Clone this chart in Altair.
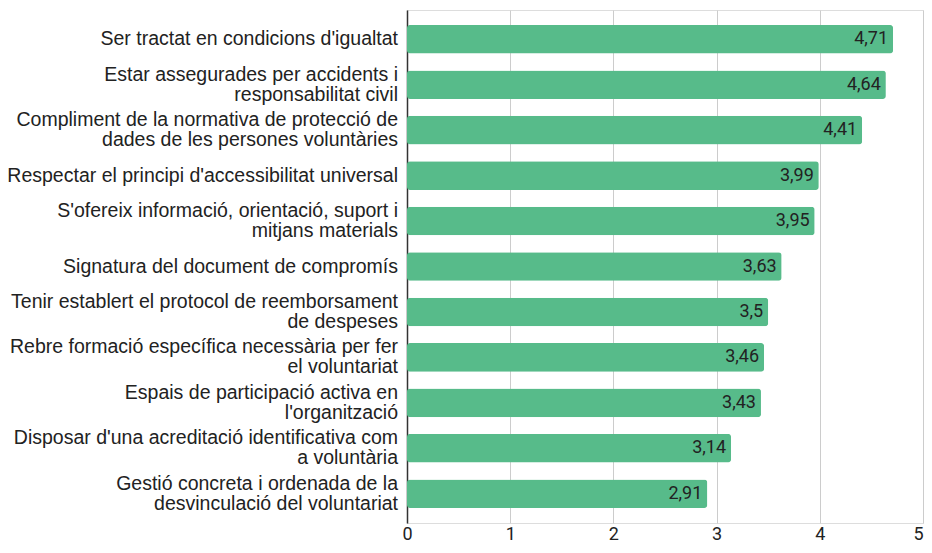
import altair as alt
import pandas as pd

categories = [
    "Ser tractat en condicions d'igualtat",
    "Estar assegurades per accidents i|responsabilitat civil",
    "Compliment de la normativa de protecció de|dades de les persones voluntàries",
    "Respectar el principi d'accessibilitat universal",
    "S'ofereix informació, orientació, suport i|mitjans materials",
    "Signatura del document de compromís",
    "Tenir establert el protocol de reemborsament|de despeses",
    "Rebre formació específica necessària per fer|el voluntariat",
    "Espais de participació activa en|l'organització",
    "Disposar d'una acreditació identificativa com|a voluntària",
    "Gestió concreta i ordenada de la|desvinculació del voluntariat",
]
values = [4.71, 4.64, 4.41, 3.99, 3.95, 3.63, 3.5, 3.46, 3.43, 3.14, 2.91]
value_labels = ["4,71", "4,64", "4,41", "3,99", "3,95", "3,63", "3,5", "3,46", "3,43", "3,14", "2,91"]
x_ticks = [0, 1, 2, 3, 4, 5]

df = pd.DataFrame({"cat": categories, "v": values, "lab": value_labels})

yscale = alt.Scale(paddingInner=0.37, paddingOuter=0.33)

y = alt.Y(
    "cat:N",
    sort=None,
    title=None,
    scale=yscale,
    axis=alt.Axis(
        labels=False,
        ticks=False,
        domain=True,
        domainColor="#333333",
        domainWidth=1.5,
        grid=False,
    ),
)

x = alt.X(
    "v:Q",
    title=None,
    scale=alt.Scale(domain=[0, 5], nice=False),
    axis=alt.Axis(
        values=x_ticks,
        format="d",
        labelFont="Roboto",
        labelFontSize=18,
        labelColor="#222222",
        labelPadding=2,
        labelAlign={"condition": {"test": "datum.value == 5", "value": "right"}, "value": "center"},
        ticks=False,
        domain=False,
        grid=True,
        gridColor="#cccccc",
        gridWidth=1,
        labelFlush=False,
    ),
)

base = alt.Chart(df)

bars = base.mark_bar(color="#57bb8a", cornerRadius=3).encode(x=x, y=y)

texts = base.mark_text(
    align="right", baseline="middle", dx=-5, font="Roboto", fontSize=18, color="#222222"
).encode(x=alt.X("v:Q"), y=alt.Y("cat:N", sort=None), text="lab:N")

label_common = dict(
    align="right",
    baseline="middle",
    font="Liberation Sans",
    fontSize=19.5,
    color="#222222",
    lineBreak="|",
    lineHeight=20,
)

labels_one = base.transform_filter("indexof(datum.cat, '|') < 0").mark_text(
    **label_common
).encode(x=alt.value(-9), y=alt.Y("cat:N", sort=None), text="cat:N")

labels_two = base.transform_filter("indexof(datum.cat, '|') >= 0").mark_text(
    dy=-10, **label_common
).encode(x=alt.value(-9), y=alt.Y("cat:N", sort=None), text="cat:N")

chart = (
    alt.layer(bars, texts, labels_one, labels_two)
    .resolve_scale(y="shared")
    .properties(
        width=516,
        height=513,
        autosize=alt.AutoSizeParams(type="none"),
        padding={"left": 399, "top": 2, "right": 1, "bottom": 22},
    )
    .configure_view(stroke=None)
    .configure(background="white")
)

chart.save("out.html", embed_options={"renderer": "svg", "actions": False})
